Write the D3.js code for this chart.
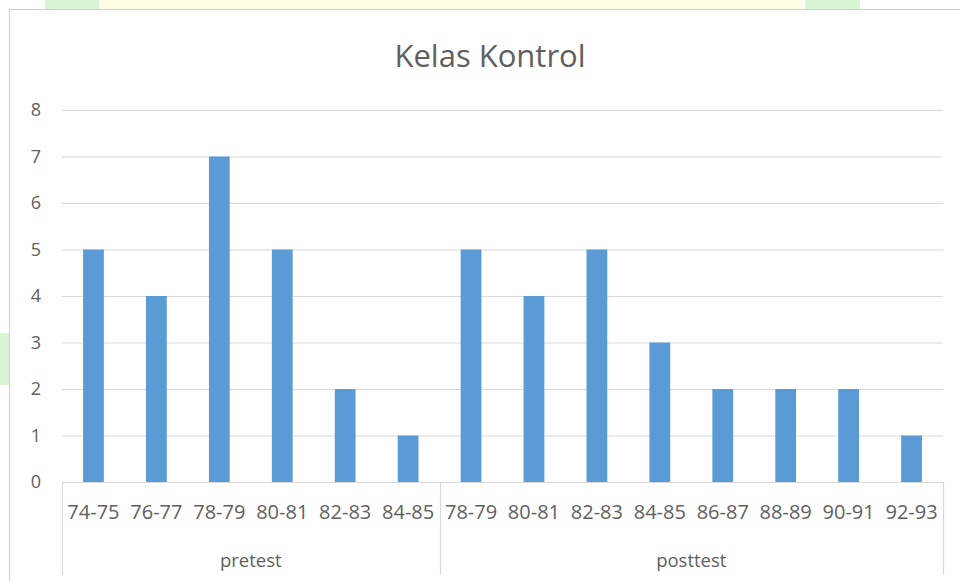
<!DOCTYPE html>
<html><head><meta charset="utf-8">
<script src="https://cdn.jsdelivr.net/npm/d3@7"></script>
<style>body{margin:0;background:#fff;}svg{display:block;}</style>
</head><body>
<svg id="c" width="960" height="581"></svg>
<script>
const title = "Kelas Kontrol";
const groups = ["pretest", "posttest"];
const pretestCats = ["74-75","76-77","78-79","80-81","82-83","84-85"];
const pretestVals = [5,4,7,5,2,1];
const posttestCats = ["78-79","80-81","82-83","84-85","86-87","88-89","90-91","92-93"];
const posttestVals = [5,4,5,3,2,2,2,1];
const yTicks = [0,1,2,3,4,5,6,7,8];

const rows = [
  ...pretestCats.map((c,i)=>({g:"pretest", c, v:pretestVals[i], k:"pre"+i})),
  ...posttestCats.map((c,i)=>({g:"posttest", c, v:posttestVals[i], k:"post"+i}))
];

const svg = d3.select("#c");
const txt = "#5f5f5f", grid = "#D9D9D9", bar = "#5B9BD5";
const font = "'Open Sans', sans-serif";

// faint background decorations
svg.append("rect").attr("x",45).attr("y",0).attr("width",54).attr("height",10).attr("fill","#d9f5d6");
svg.append("rect").attr("x",99).attr("y",0).attr("width",703).attr("height",10).attr("fill","#fffde3");
svg.append("rect").attr("x",805).attr("y",0).attr("width",55).attr("height",10).attr("fill","#d9f5d6");
svg.append("rect").attr("x",0).attr("y",333).attr("width",9).attr("height",52).attr("fill","#d9f5d6");

// chart frame
svg.append("rect").attr("x",9.5).attr("y",9.5).attr("width",980).attr("height",600)
  .attr("fill","#fff").attr("stroke","#D0D0D0");

const L = 62, R = 943, T = 110, B = 482;
const x = d3.scaleBand().domain(rows.map(d=>d.k)).range([L,R]).paddingInner(0.67).paddingOuter(0.335);
const y = d3.scaleLinear().domain([0,8]).range([B,T]);

// gridlines
svg.append("g").selectAll("line").data(yTicks.filter(t=>t>0)).join("line")
  .attr("x1",L).attr("x2",R).attr("y1",d=>y(d)+0.5).attr("y2",d=>y(d)+0.5)
  .attr("stroke",grid).attr("stroke-width",1.2);

// y axis labels
const yAxis = d3.axisLeft(y).tickValues(yTicks).tickSize(0).tickPadding(0);
const ya = svg.append("g").attr("transform",`translate(41,0)`).call(yAxis);
ya.select(".domain").remove();
ya.selectAll("text").attr("fill",txt).attr("font-family",font).attr("font-size",18).attr("text-anchor","end");

// bars
svg.append("g").selectAll("rect").data(rows).join("rect")
  .attr("x",d=>x(d.k)).attr("width",x.bandwidth())
  .attr("y",d=>y(d.v)).attr("height",d=>y(0)-y(d.v)).attr("fill",bar);

// x axis line
svg.append("line").attr("x1",L).attr("x2",R).attr("y1",B+0.5).attr("y2",B+0.5).attr("stroke",grid).attr("stroke-width",1.2);

// category labels
const xAxis = d3.axisBottom(x).tickSize(0).tickPadding(0).tickFormat(k=>rows.find(r=>r.k===k).c);
const xa = svg.append("g").attr("transform",`translate(0,${B+23})`).call(xAxis);
xa.select(".domain").remove();
xa.selectAll("text").attr("fill",txt).attr("font-family",font).attr("font-size",20).attr("dy","0.71em");

// group separators and labels
const step = x.step();
const starts = [L, L + pretestCats.length*step, R];
svg.append("g").selectAll("line").data(starts).join("line")
  .attr("x1",d=>Math.round(d)+0.5).attr("x2",d=>Math.round(d)+0.5).attr("y1",B).attr("y2",575)
  .attr("stroke",grid).attr("stroke-width",1.2);
svg.append("g").selectAll("text").data(groups).join("text")
  .attr("x",(d,i)=>(starts[i]+starts[i+1])/2).attr("y",567)
  .attr("text-anchor","middle").attr("fill",txt).attr("font-family",font).attr("font-size",18.5)
  .text(d=>d);

// title
svg.append("text").attr("x",490).attr("y",67).attr("text-anchor","middle")
  .attr("fill",txt).attr("font-family",font).attr("font-size",31).text(title);
</script>
</body></html>
